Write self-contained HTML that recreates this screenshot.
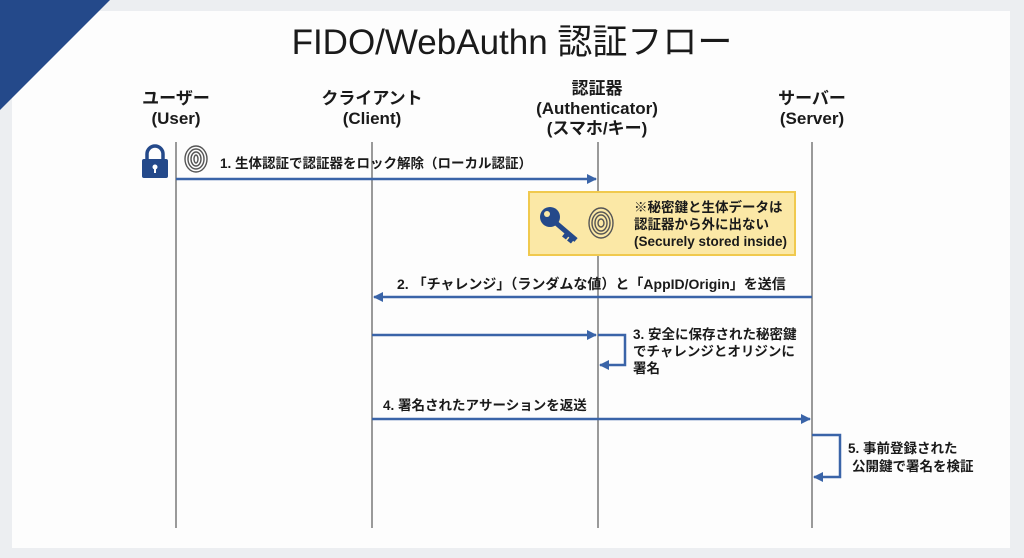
<!DOCTYPE html>
<html><head><meta charset="utf-8"><style>
html,body{margin:0;padding:0;width:1024px;height:558px;overflow:hidden;background:#eceef1}
svg{display:block}
text{font-family:"Liberation Sans","Noto Sans CJK JP",sans-serif;fill:#1a1a1a}
</style></head><body>
<svg width="1024" height="558" viewBox="0 0 1024 558">
<defs><marker id="ah" markerWidth="10" markerHeight="10" refX="9" refY="5" orient="auto" markerUnits="userSpaceOnUse"><path d="M0,0 L10,5 L0,10 z" fill="#3a64a8"/></marker></defs>
<rect x="12" y="11" width="998" height="537" fill="#fdfdfd"/>
<polygon points="0,0 110,0 0,110" fill="#24498a"/>
<text x="512" y="54" font-size="35" text-anchor="middle" fill="#111">FIDO/WebAuthn 認証フロー</text>
<g font-size="17" font-weight="bold" text-anchor="middle" fill="#222">
<text x="176" y="104">ユーザー</text><text x="176" y="124">(User)</text>
<text x="372" y="104">クライアント</text><text x="372" y="124">(Client)</text>
<text x="597" y="94">認証器</text><text x="597" y="114">(Authenticator)</text><text x="597" y="134">(スマホ/キー)</text>
<text x="812" y="104">サーバー</text><text x="812" y="124">(Server)</text>
</g>
<g stroke="#666" stroke-width="1.3">
<line x1="176" y1="142" x2="176" y2="528"/><line x1="372" y1="142" x2="372" y2="528"/>
<line x1="598" y1="142" x2="598" y2="528"/><line x1="812" y1="142" x2="812" y2="528"/>
</g>
<path d="M147,160 v-6 a8,8 0 0 1 16,0 v6" fill="none" stroke="#24498a" stroke-width="3.5"/>
<rect x="142" y="159" width="26" height="19" rx="2" fill="#24498a"/>
<circle cx="155" cy="167" r="2.5" fill="#fff"/><rect x="154" y="168" width="2" height="5" fill="#fff"/>
<g fill="none" stroke="#555" stroke-width="1.4">
<ellipse cx="196" cy="159" rx="11" ry="13"/><ellipse cx="196" cy="159" rx="8" ry="10"/><ellipse cx="196" cy="159" rx="5" ry="7"/><ellipse cx="196" cy="159" rx="2" ry="4"/>
</g>
<g font-size="13.5" font-weight="bold" fill="#222">
<text x="220" y="168">1. 生体認証で認証器をロック解除（ローカル認証）</text>
</g>
<g stroke="#3a64a8" stroke-width="2.5" fill="none">
<line x1="176" y1="179" x2="596" y2="179" marker-end="url(#ah)"/>
<line x1="812" y1="297" x2="374" y2="297" marker-end="url(#ah)"/>
<line x1="372" y1="335" x2="596" y2="335" marker-end="url(#ah)"/>
<polyline points="598,335 625,335 625,365 600,365" marker-end="url(#ah)"/>
<line x1="372" y1="419" x2="810" y2="419" marker-end="url(#ah)"/>
<polyline points="812,435 840,435 840,477 814,477" marker-end="url(#ah)"/>
</g>
<rect x="529" y="192" width="266" height="63" fill="#fbe8a6" stroke="#f0c94e" stroke-width="2"/>
<circle cx="550" cy="217" r="10" fill="#24498a"/><circle cx="547" cy="214" r="3" fill="#fbe8a6"/>
<path d="M556,223 L576,240 M568,233 l-4,5 M573,237 l-4,5" stroke="#24498a" stroke-width="5" fill="none"/>
<g fill="none" stroke="#555" stroke-width="1.4">
<ellipse cx="601" cy="223" rx="12" ry="15"/><ellipse cx="601" cy="223" rx="9" ry="11"/><ellipse cx="601" cy="223" rx="6" ry="8"/><ellipse cx="601" cy="223" rx="3" ry="4"/>
</g>
<g font-size="13.5" font-weight="bold" fill="#222">
<text x="634" y="212">※秘密鍵と生体データは</text>
<text x="634" y="229">認証器から外に出ない</text>
<text x="634" y="246">(Securely stored inside)</text>
<text x="397" y="289" font-size="14">2. 「チャレンジ」（ランダムな値）と「AppID/Origin」を送信</text>
<text x="633" y="339">3. 安全に保存された秘密鍵</text>
<text x="633" y="356">でチャレンジとオリジンに</text>
<text x="633" y="373">署名</text>
<text x="383" y="410">4. 署名されたアサーションを返送</text>
<text x="848" y="453">5. 事前登録された</text>
<text x="852" y="471">公開鍵で署名を検証</text>
</g>
</svg>
</body></html>
